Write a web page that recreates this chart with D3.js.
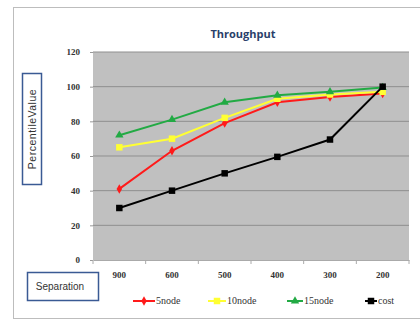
<!DOCTYPE html>
<html>
<head>
<meta charset="utf-8">
<script src="https://cdn.jsdelivr.net/npm/d3@7"></script>
<style>
  body { margin: 0; background: #fff; }
  svg { display: block; }
</style>
</head>
<body>
<svg id="chart" width="420" height="321"></svg>
<script>
// data
const separations = ["900", "600", "500", "400", "300", "200"];
const node5 = [41, 63, 79, 91, 94, 96];
const node10 = [65, 70, 82, 93, 95.5, 97];
const node15 = [72, 81, 91, 95, 97, 99.5];
const cost = [30, 40, 50, 59.5, 69.5, 100];
const yTicks = [0, 20, 40, 60, 80, 100, 120];

const series = [
  { name: "5node", values: node5, color: "#ff1a1a", marker: "diamond" },
  { name: "10node", values: node10, color: "#ffff33", marker: "square" },
  { name: "15node", values: node15, color: "#22aa44", marker: "triangle" },
  { name: "cost", values: cost, color: "#000000", marker: "square" }
];

const svg = d3.select("#chart");

// outer chart border
svg.append("rect")
  .attr("x", 13.5).attr("y", 7.5)
  .attr("width", 420).attr("height", 311)
  .attr("fill", "#fff")
  .attr("stroke", "#bdbdbd");

const margin = { left: 93, top: 52, right: 11, bottom: 61 };
const width = 420 - margin.left - margin.right;
const height = 321 - margin.top - margin.bottom;

const x = d3.scaleBand().domain(separations).range([margin.left, margin.left + width]);
const y = d3.scaleLinear().domain([0, 120]).range([margin.top + height, margin.top]);

// plot area
svg.append("rect")
  .attr("x", margin.left).attr("y", margin.top)
  .attr("width", width).attr("height", height)
  .attr("fill", "#c0c0c0");

// gridlines
svg.append("g")
  .selectAll("line")
  .data(yTicks.filter(d => d > 0))
  .join("line")
  .attr("x1", margin.left).attr("x2", margin.left + width)
  .attr("y1", d => y(d)).attr("y2", d => y(d))
  .attr("stroke", "#8f8f8f")
  .attr("stroke-width", 1);

// y axis labels
const yAxis = svg.append("g")
  .attr("transform", `translate(${margin.left},0)`)
  .call(d3.axisLeft(y).tickValues(yTicks).tickSize(3).tickPadding(10));
yAxis.select(".domain").remove();
yAxis.selectAll(".tick line").attr("stroke", "#999");
yAxis.selectAll("text")
  .attr("font-family", "Liberation Serif, serif")
  .attr("font-weight", "bold")
  .attr("font-size", 9)
  .attr("fill", "#333");

// x axis
const xAxis = svg.append("g")
  .attr("transform", `translate(0,${margin.top + height})`)
  .call(d3.axisBottom(x).tickSize(0).tickPadding(12));
xAxis.select(".domain").attr("stroke", "#aaa");
xAxis.selectAll("text")
  .attr("font-family", "Liberation Serif, serif")
  .attr("font-weight", "bold")
  .attr("font-size", 9)
  .attr("fill", "#333");
// tick marks between categories
svg.append("g")
  .selectAll("line")
  .data(separations.concat("end"))
  .join("line")
  .attr("x1", (d, i) => margin.left + i * x.step())
  .attr("x2", (d, i) => margin.left + i * x.step())
  .attr("y1", margin.top + height)
  .attr("y2", margin.top + height + 4)
  .attr("stroke", "#aaa");

// title
svg.append("text")
  .attr("x", 243).attr("y", 38)
  .attr("text-anchor", "middle")
  .attr("font-family", "Open Sans, sans-serif")
  .attr("font-weight", "bold")
  .attr("font-size", 11)
  .attr("fill", "#2a3f6a")
  .text("Throughput");

// y title box
svg.append("rect")
  .attr("x", 22.5).attr("y", 73.5)
  .attr("width", 19).attr("height", 111)
  .attr("fill", "#fff").attr("stroke", "#3a5a94").attr("stroke-width", 1.5);
svg.append("text")
  .attr("transform", "translate(36,129) rotate(-90)")
  .attr("text-anchor", "middle")
  .attr("font-family", "Liberation Sans, sans-serif")
  .attr("font-size", 10.5)
  .attr("letter-spacing", 0.5)
  .attr("fill", "#333")
  .text("PercentileValue");

// x title box
svg.append("rect")
  .attr("x", 27.5).attr("y", 272.5)
  .attr("width", 71).attr("height", 28)
  .attr("fill", "#fff").attr("stroke", "#3a5a94").attr("stroke-width", 1.5);
svg.append("text")
  .attr("x", 60).attr("y", 290)
  .attr("text-anchor", "middle")
  .attr("font-family", "Liberation Sans, sans-serif")
  .attr("font-size", 10)
  .attr("fill", "#333")
  .text("Separation");

function markerPath(type) {
  if (type === "diamond") return d3.symbol(d3.symbolDiamond, 26)();
  if (type === "triangle") return d3.symbol(d3.symbolTriangle, 30)();
  return d3.symbol(d3.symbolSquare, 42)();
}

const line = d3.line()
  .x((d, i) => x(separations[i]) + x.bandwidth() / 2)
  .y(d => y(d));

series.forEach(s => {
  svg.append("path")
    .datum(s.values)
    .attr("fill", "none")
    .attr("stroke", s.color)
    .attr("stroke-width", 2)
    .attr("d", line);
  svg.append("g")
    .selectAll("path")
    .data(s.values)
    .join("path")
    .attr("transform", (d, i) => `translate(${x(separations[i]) + x.bandwidth() / 2},${y(d)})`)
    .attr("d", markerPath(s.marker))
    .attr("fill", s.color);
});

// legend
const legendPos = [
  { x1: 133, x2: 155 },
  { x1: 208, x2: 226 },
  { x1: 287, x2: 303 },
  { x1: 365, x2: 377 }
];
const legend = svg.append("g");
series.forEach((s, i) => {
  const p = legendPos[i];
  legend.append("line")
    .attr("x1", p.x1).attr("x2", p.x2)
    .attr("y1", 301).attr("y2", 301)
    .attr("stroke", s.color).attr("stroke-width", 2);
  legend.append("path")
    .attr("transform", `translate(${(p.x1 + p.x2) / 2},301)`)
    .attr("d", markerPath(s.marker))
    .attr("fill", s.color);
  legend.append("text")
    .attr("x", p.x2 + 1).attr("y", 304)
    .attr("font-family", "Liberation Serif, serif")
    .attr("font-size", 10)
    .attr("fill", "#333")
    .text(s.name);
});
</script>
</body>
</html>
